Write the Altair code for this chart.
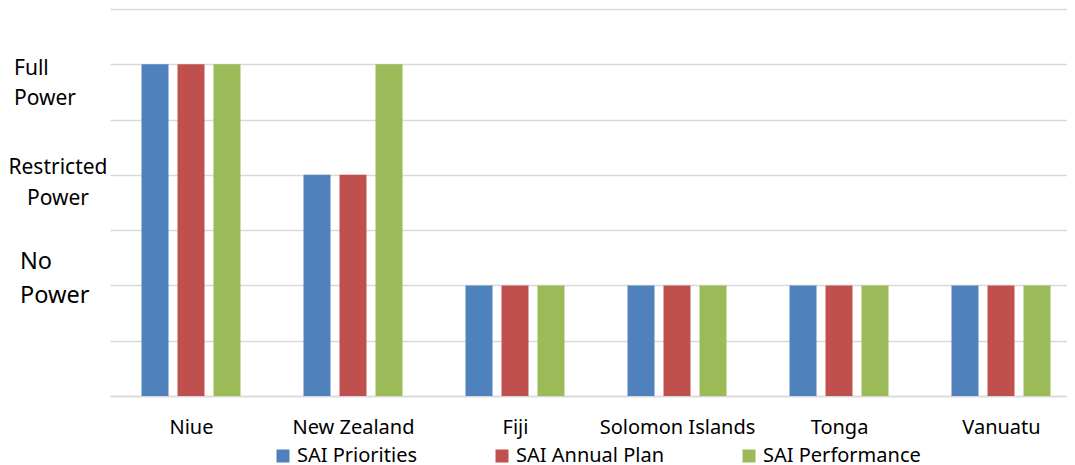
import altair as alt
import pandas as pd

countries = ["Niue", "New Zealand", "Fiji", "Solomon Islands", "Tonga", "Vanuatu"]
series = ["SAI Priorities", "SAI Annual Plan", "SAI Performance"]
priorities = [3, 2, 1, 1, 1, 1]
annual_plan = [3, 2, 1, 1, 1, 1]
performance = [3, 3, 1, 1, 1, 1]
colors = ["#4f81bd", "#c0504d", "#9bbb59"]
level_values = [1, 2, 3]
level_labels = ["No\nPower", "Restricted\nPower", "Full\nPower"]
grid_values = [0, 0.5, 1, 1.5, 2, 2.5, 3, 3.5]

FONT = "Noto Sans"

# plot geometry (pixels): one category slot, bar step and bar width inside it
SLOT, BAR_STEP, BAR_W, PLOT_W = 162.0, 36.0, 27.0, 957

rows = []
for i, c in enumerate(countries):
    for j, (s, vals) in enumerate(zip(series, [priorities, annual_plan, performance])):
        rows.append({"country": c, "idx": i, "series": s, "sidx": j, "value": vals[i]})
df = pd.DataFrame(rows)

label_js = "[" + ",".join("'" + c + "'" for c in countries) + "]"

bars = alt.Chart(df).transform_calculate(
    x0=f"datum.idx + 0.5 + (datum.sidx - 1) * {BAR_STEP / SLOT} - {BAR_W / 2 / SLOT}",
).transform_calculate(
    x1=f"datum.x0 + {BAR_W / SLOT}",
).mark_rect().encode(
    x=alt.X(
        "x0:Q",
        scale=alt.Scale(domain=[0, PLOT_W / SLOT], nice=False, zero=False),
        axis=alt.Axis(
            title=None, values=[i + 0.5 for i in range(len(countries))],
            labelExpr=f"{label_js}[floor(datum.value)]",
            labelAngle=0, domain=True, domainColor="#d9d9d9", grid=False,
            domainWidth=1.3, ticks=False, labelFontSize=20, labelFont=FONT,
            labelColor="#000000", labelPadding=21, labelFlush=False,
            labelOverlap=False,
        ),
    ),
    x2="x1:Q",
    y=alt.Y(
        "value:Q",
        scale=alt.Scale(domain=[0, 3.5], nice=False),
        axis=alt.Axis(
            title=None, values=grid_values, labels=False, ticks=False,
            domain=False, grid=True, gridColor="#d9d9d9", gridWidth=1.3,
        ),
    ),
    y2=alt.datum(0),
    color=alt.Color(
        "series:N",
        sort=series,
        scale=alt.Scale(domain=series, range=colors),
        legend=alt.Legend(
            title=None, orient="none", legendX=163, legendY=437,
            direction="horizontal", symbolType="square", symbolSize=169,
            symbolStrokeWidth=0, labelFontSize=20, labelFont=FONT,
            labelColor="#000000", labelOffset=4, columnPadding=74, padding=0,
        ),
    ),
)


def level_text(i, align, xpix, dy, size, lh):
    d = pd.DataFrame({"value": [level_values[i]], "label": [level_labels[i]]})
    return alt.Chart(d).mark_text(
        align=align, baseline="alphabetic", dy=dy, fontSize=size,
        lineHeight=lh, font=FONT, color="#000000", lineBreak="\n",
    ).encode(
        y=alt.Y("value:Q", title=None),
        x=alt.value(xpix),
        text="label:N",
    )


t_no = level_text(0, "left", -90, -16, 23.5, 34)
t_res = level_text(1, "center", -52, -1, 21, 31)
t_full = level_text(2, "left", -96, 11, 21, 30)

chart = alt.layer(bars, t_no, t_res, t_full).properties(
    width=PLOT_W, height=387,
    padding={"left": 102, "top": 1, "right": 0, "bottom": 68},
    autosize=alt.AutoSizeParams(type="none"),
    background="white",
).configure_view(stroke=None)

chart.save("out.html", embed_options={"renderer": "svg", "actions": False})
